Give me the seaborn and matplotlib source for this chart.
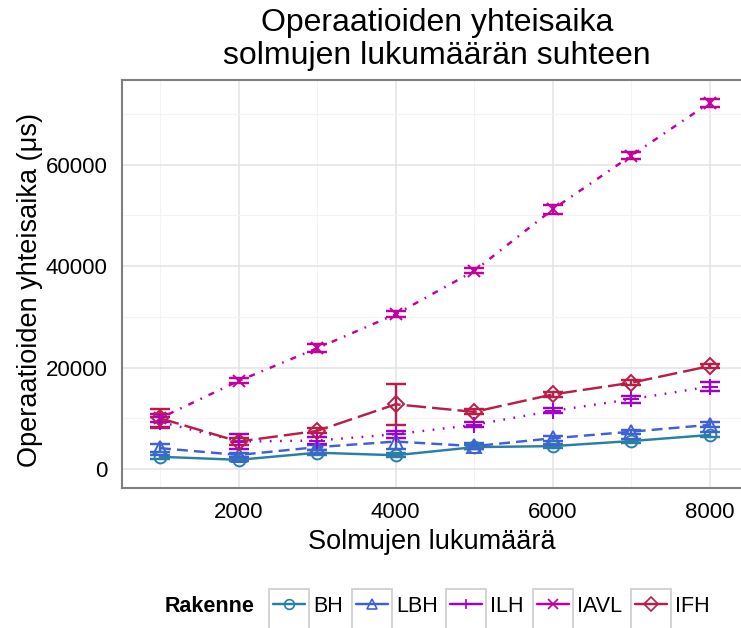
"""
Operaatioiden yhteisaika solmujen lukumäärän suhteen.
"""

import matplotlib
matplotlib.use("Agg")
import matplotlib.pyplot as plt
from matplotlib.lines import Line2D
from matplotlib.patches import Rectangle
import seaborn as sns
import numpy as np
import pandas as pd

sns.set_style("whitegrid")
plt.rcParams['font.family'] = ['Liberation Sans', 'DejaVu Sans']
plt.rcParams['text.color'] = 'black'
plt.rcParams['axes.labelcolor'] = 'black'

# Data
nodes = [1000, 2000, 3000, 4000, 5000, 6000, 7000, 8000]
structures = ['BH', 'LBH', 'ILH', 'IAVL', 'IFH']

bh_mean = [2400, 1800, 3200, 2700, 4300, 4500, 5500, 6700]
bh_err = [400, 300, 500, 400, 400, 400, 350, 500]
lbh_mean = [4100, 2760, 4300, 5400, 4500, 6050, 7350, 8700]
lbh_err = [800, 400, 500, 1500, 600, 450, 400, 500]
ilh_mean = [9300, 5400, 5600, 6850, 8700, 11450, 13750, 16250]
ilh_err = [1000, 1500, 700, 700, 500, 500, 700, 800]
iavl_mean = [10000, 17350, 23800, 30500, 39050, 51200, 61800, 72250]
iavl_err = [800, 500, 800, 600, 500, 900, 700, 800]
ifh_mean = [10000, 5400, 7500, 12750, 11250, 14700, 17000, 20300]
ifh_err = [1900, 700, 500, 4000, 500, 500, 500, 400]

means = [bh_mean, lbh_mean, ilh_mean, iavl_mean, ifh_mean]
errs = [bh_err, lbh_err, ilh_err, iavl_err, ifh_err]

colors = {'BH': '#2a7fa8', 'LBH': '#4060d8', 'ILH': '#a000cc',
          'IAVL': '#c4009c', 'IFH': '#b81e48'}
markers = {'BH': 'o', 'LBH': '^', 'ILH': '+', 'IAVL': 'x', 'IFH': 'D'}
msizes = {'BH': 8.5, 'LBH': 10, 'ILH': 11, 'IAVL': 8.5, 'IFH': 8.5}
dashes = {'BH': '', 'LBH': (4.5, 2.5), 'ILH': (0.7, 3.5),
          'IAVL': (0.7, 3, 2.5, 3), 'IFH': (8, 2.5)}

df = pd.DataFrame({
    'Solmut': np.tile(nodes, len(structures)),
    'Aika': np.concatenate(means),
    'Virhe': np.concatenate(errs),
    'Rakenne': np.repeat(structures, len(nodes)),
})

W, H = 741, 628
fig = plt.figure(figsize=(W / 100, H / 100), dpi=100)
ax = fig.add_axes([121.5 / W, 1 - 487.7 / H, (748 - 121.5) / W, (487.7 - 80) / H])

LW = 1.75
# Error bars first
for name in structures:
    sub = df[df['Rakenne'] == name]
    ax.errorbar(sub['Solmut'], sub['Aika'], yerr=sub['Virhe'], fmt='none',
                ecolor=colors[name], elinewidth=LW, capsize=7, capthick=LW, zorder=3)

sns.lineplot(data=df, x='Solmut', y='Aika', hue='Rakenne', style='Rakenne',
             palette=colors, dashes=dashes, markers=False, linewidth=LW,
             ax=ax, legend=False, zorder=4)

for name in structures:
    sub = df[df['Rakenne'] == name]
    ax.plot(sub['Solmut'], sub['Aika'], ls='none', marker=markers[name],
            markersize=msizes[name], markerfacecolor='none',
            markeredgecolor=colors[name], markeredgewidth=1.4, zorder=5)

ax.set_xlim(510, 8484)
ax.set_ylim(-3700, 76700)
ax.set_xticks([2000, 4000, 6000, 8000])
ax.set_yticks([0, 20000, 40000, 60000])
ax.set_xticks([1000, 3000, 5000, 7000], minor=True)
ax.set_yticks([10000, 30000, 50000, 70000], minor=True)
ax.grid(which='major', color='#e3e3e3', linewidth=1.1)
ax.grid(which='minor', color='#f3f3f3', linewidth=0.8)
ax.set_facecolor('white')
for sp in ax.spines.values():
    sp.set_color('#7f7f7f')
    sp.set_linewidth(1.5)
ax.tick_params(axis='both', which='major', length=5, width=1.3, color='#333333',
               labelsize=16, labelcolor='black', direction='out', pad=5)
ax.tick_params(axis='both', which='minor', length=0)

ax.set_xlabel('Solmujen lukumäärä', fontsize=19.5)
ax.set_ylabel('Operaatioiden yhteisaika (μs)', fontsize=19.5)
ax.xaxis.set_label_coords((432 - 121.5) / (748 - 121.5), -(529 - 487.7) / (487.7 - 80))
ax.yaxis.set_label_coords((43 - 121.5) / (748 - 121.5), (487.7 - 290) / (487.7 - 80))

fig.suptitle('Operaatioiden yhteisaika\nsolmujen lukumäärän suhteen',
             fontsize=23, x=437 / W, y=1 - 8 / H, va='top', linespacing=1.15)

# Legend at bottom
handles = []
for name in structures:
    handles.append(Line2D([], [], color=colors[name], lw=LW, marker=markers[name],
                          markersize=7, markerfacecolor='none',
                          markeredgecolor=colors[name], markeredgewidth=1.2))
leg = fig.legend(handles, structures, loc='center left',
                 bbox_to_anchor=(273 / W, 1 - 606 / H),
                 ncol=5, frameon=False, fontsize=15.5, handlelength=1.49,
                 handletextpad=0.37, columnspacing=0.6, borderpad=0, borderaxespad=0)
fig.text(165 / W, 1 - 606 / H, 'Rakenne', fontsize=15.5, fontweight='bold',
         va='center', ha='left')

fig.canvas.draw()
renderer = fig.canvas.get_renderer()
for h in leg.legend_handles:
    bb = h.get_window_extent(renderer)
    cx = (bb.x0 + bb.x1) / 2
    fig.add_artist(Rectangle(((cx - 20) / W, (H - 631) / H), 40 / W, 42 / H,
                             transform=fig.transFigure, fill=False,
                             edgecolor='#cccccc', linewidth=1.2))

plt.savefig('out.png', dpi=100)
